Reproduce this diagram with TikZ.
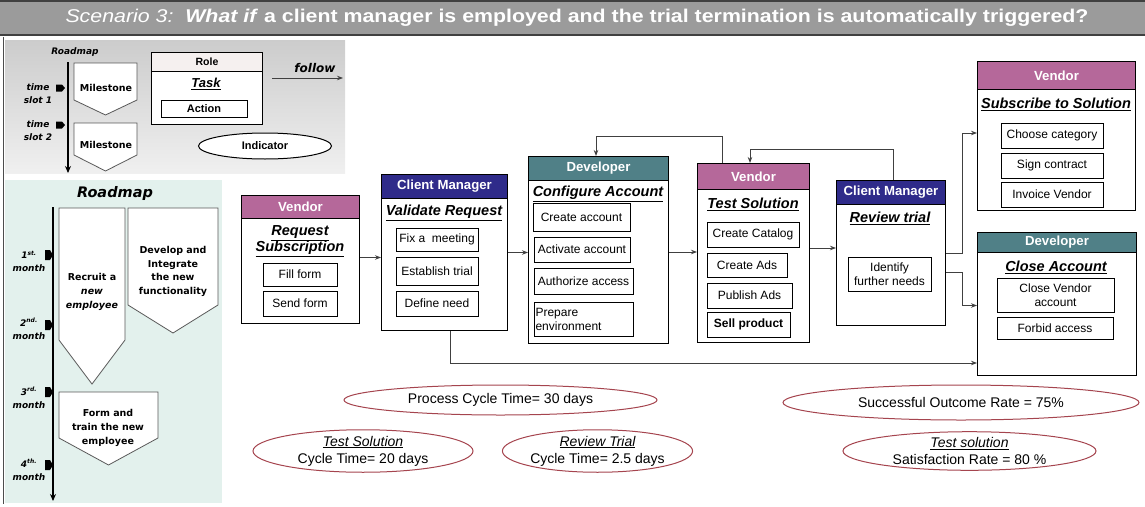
\documentclass[tikz,border=0pt]{standalone}
\usepackage{graphicx}
\usepackage{fontspec}
\setmainfont{Liberation Sans}
\newfontfamily\rmapfont{DejaVu Sans}
\usetikzlibrary{positioning,arrows.meta,shapes.geometric}
\definecolor{vendorc}{RGB}{181,104,154}
\definecolor{clientc}{RGB}{47,43,138}
\definecolor{devc}{RGB}{80,128,135}
\definecolor{indc}{RGB}{165,68,78}
\definecolor{rmapc}{RGB}{227,241,237}
\definecolor{titlec}{RGB}{155,155,155}
\definecolor{rolec}{RGB}{245,240,239}
\definecolor{linec}{RGB}{64,64,64}

\begin{document}
\begin{tikzpicture}[x=1pt, y=-1pt,
  panel/.style={rectangle, draw=black, line width=1pt, fill=white, inner sep=0pt, anchor=north west},
  head/.style={rectangle, draw=black, line width=1pt, text=white, inner sep=0pt, anchor=north,
               font=\fontsize{13.2}{15}\selectfont\bfseries},
  task/.style={align=center, inner sep=0pt, font=\fontsize{14.5}{16}\selectfont\bfseries\itshape},
  act/.style={rectangle, draw=black, line width=0.9pt, fill=white, align=center, inner sep=0pt,
              font=\fontsize{12}{14}\selectfont},
  ind/.style={ellipse, draw=indc, line width=1pt, fill=white, inner sep=0pt, align=center,
              font=\fontsize{14}{17}\selectfont},
  mile/.style={draw=black!65, line width=0.8pt, fill=white},
  rmap/.style={align=center, inner sep=0pt, font=\rmapfont\fontsize{9.5}{14}\selectfont\bfseries},
  rmaplbl/.style={align=center, inner sep=0pt, font=\rmapfont\fontsize{9}{13}\selectfont\bfseries\itshape},
  arrow/.style={-{Stealth[length=6pt, width=4.5pt]}, draw=linec, line width=0.9pt},
  axis/.style={-{Stealth[length=7pt, width=6pt]}, draw=black, line width=1.6pt}
]
\useasboundingbox (0,0) rectangle (1145,506);

% title bar
\fill[titlec] (0,0) rectangle (1145,36);
\draw[black!75, line width=1.5pt] (0,0.75) -- (1145,0.75);
\draw[black!75, line width=2.5pt] (0,35) -- (1145,35);
\draw[black!70, line width=1pt] (3,37) -- (3,504);
\node[text=white, inner sep=0pt, font=\fontsize{18.5}{20}\selectfont] (ttl) at (577,18)
  {\resizebox{1023pt}{\height}{\textit{Scenario 3:}\ \ \textbf{\textit{What if}} \textbf{a client manager is employed and the trial termination is automatically triggered?}}};

% legend
\shade[top color=black!20, bottom color=black!6] (5,40) rectangle (345,173);
\node[rmaplbl] (lgrm) at (75,52) {Roadmap};
\coordinate (lgax1) at (68,62);
\coordinate (lgax2) at (68,173);
\draw[axis, line width=1.3pt] (lgax1) -- (lgax2);
\foreach \my in {88,125} {
  \fill (56,\my-3.5) -- (62,\my-3.5) -- (65,\my) -- (62,\my+3.5) -- (56,\my+3.5) -- cycle;
}
\node[rmaplbl] (lgts1) at (38,94) {time\\slot 1};
\node[rmaplbl] (lgts2) at (38,130.5) {time\\slot 2};
\draw[mile] (74,63) -- (137,63) -- (137,100) -- (105.5,115) -- (74,100) -- cycle;
\node[rmap] (lgms1) at (106,88) {Milestone};
\draw[mile] (74,123) -- (137,123) -- (137,155) -- (105.5,171) -- (74,155) -- cycle;
\node[rmap] (lgms2) at (106,145) {Milestone};
\node[panel, minimum width=111, minimum height=72] (lgrole) at (151,52) {};
\node[head, fill=rolec, text=black, minimum width=111, minimum height=19,
      font=\fontsize{10.5}{12}\selectfont\bfseries] (lgroleh) at (lgrole.north) {Role};
\node[task, font=\fontsize{13}{15}\selectfont\bfseries\itshape] (lgtask) at (206,84) {\underline{Task}};
\node[act, minimum width=86, minimum height=17, font=\fontsize{11}{13}\selectfont\bfseries] (lgact) at (204,108.5) {Action};
\node[rmaplbl, font=\rmapfont\fontsize{12}{14}\selectfont\bfseries\itshape] (lgflw) at (315,68) {follow};
\coordinate (lgfl1) at (272,78);
\coordinate (lgfl2) at (343,78);
\draw[arrow] (lgfl1) -- (lgfl2);
\node[ellipse, draw=black, line width=1pt, fill=white, minimum width=133, minimum height=26, inner sep=0pt,
      font=\fontsize{11}{13}\selectfont\bfseries] (lgind) at (265,146) {Indicator};

% roadmap
\fill[rmapc] (5,180) rectangle (222,503);
\node[rmaplbl, font=\rmapfont\fontsize{14.5}{16}\selectfont\bfseries\itshape] (rmt) at (115,193) {Roadmap};
\coordinate (rmax1) at (53,207);
\coordinate (rmax2) at (53,501);
\draw[axis] (rmax1) -- (rmax2);
\foreach \my in {255,325,392,465} {
  \fill (45,\my-5) -- (50,\my-5) -- (53,\my) -- (50,\my+5) -- (45,\my+5) -- cycle;
}
\node[rmaplbl] (mon1) at (29,261.5) {1\textsuperscript{st.}\\month};
\node[rmaplbl] (mon2) at (29,328.5) {2\textsuperscript{nd.}\\month};
\node[rmaplbl] (mon3) at (29,398) {3\textsuperscript{rd.}\\month};
\node[rmaplbl] (mon4) at (29,469.5) {4\textsuperscript{th.}\\month};
\draw[mile] (59,208) -- (125,208) -- (125,340) -- (92,384) -- (59,340) -- cycle;
\node[rmap] (rcr) at (92,292) {Recruit a\\\textit{new}\\\textit{employee}};
\draw[mile] (128,208) -- (218,208) -- (218,305) -- (173,333) -- (128,305) -- cycle;
\node[rmap, font=\rmapfont\fontsize{9.5}{13.7}\selectfont\bfseries] (dev) at (173,271.5) {Develop and\\Integrate\\the new\\functionality};
\draw[mile] (59,392) -- (158,392) -- (158,438) -- (108.5,465) -- (59,438) -- cycle;
\node[rmap] (frm) at (108,428) {Form and\\train the new\\employee};

% request subscription
\node[panel, minimum width=118, minimum height=128] (rs) at (241,195) {};
\node[head, fill=vendorc, minimum width=118, minimum height=23] (rsh) at (rs.north) {Vendor};
\node[task] (rst) at (300,241) {\underline{Request}\\\underline{Subscription}};
\node[act, minimum width=74, minimum height=23] (rs1) at (300,274.5) {Fill form};
\node[act, minimum width=74, minimum height=25] (rs2) at (300,303.5) {Send form};

% validate request
\node[panel, minimum width=126, minimum height=156] (vr) at (381,174) {};
\node[head, fill=clientc, minimum width=126, minimum height=24] (vrh) at (vr.north) {Client Manager};
\node[task] (vrt) at (444,213) {\underline{Validate Request}};
\node[act, minimum width=82, minimum height=23] (vr1) at (437,239.5) {Fix a\ \ meeting};
\node[act, minimum width=82, minimum height=28] (vr2) at (437,271) {Establish trial};
\node[act, minimum width=82, minimum height=25] (vr3) at (437,303.5) {Define need};

% configure account
\node[panel, minimum width=140, minimum height=187] (ca) at (528,156) {};
\node[head, fill=devc, minimum width=140, minimum height=24] (cah) at (ca.north) {Developer};
\node[task] (cat) at (598,194) {\underline{Configure Account}};
\node[act, minimum width=97, minimum height=28] (ca1) at (581.5,217) {Create account};
\node[act, minimum width=96, minimum height=25] (ca2) at (582,249.5) {Activate account};
\node[act, minimum width=99, minimum height=26] (ca3) at (583.5,281) {Authorize access};
\node[act, minimum width=99, minimum height=34, text width=96, align=left] (ca4) at (583.5,319) {Prepare\\environment};

% test solution
\node[panel, minimum width=112, minimum height=179] (ts) at (697,163) {};
\node[head, fill=vendorc, minimum width=112, minimum height=26] (tsh) at (ts.north) {Vendor};
\node[task] (tst) at (753,204) {\underline{Test Solution}};
\node[act, minimum width=92, minimum height=25] (ts1) at (753,234.5) {Create Catalog};
\node[act, minimum width=80, minimum height=24] (ts2) at (747,265) {Create Ads};
\node[act, minimum width=85, minimum height=25] (ts3) at (749.5,295.5) {Publish Ads};
\node[act, minimum width=83, minimum height=25, font=\fontsize{12}{14}\selectfont\bfseries] (ts4) at (748.5,324.5) {Sell product};

% review trial
\node[panel, minimum width=109, minimum height=145] (rt) at (836,180) {};
\node[head, fill=clientc, minimum width=109, minimum height=24] (rth) at (rt.north) {Client Manager};
\node[task] (rtt) at (890,218) {\underline{Review trial}};
\node[act, minimum width=83, minimum height=34] (rt1) at (889.5,274) {Identify\\further needs};

% subscribe to solution
\node[panel, minimum width=158, minimum height=149] (ss) at (977,61) {};
\node[head, fill=vendorc, minimum width=158, minimum height=28] (ssh) at (ss.north) {Vendor};
\node[task] (sst) at (1056,104) {\underline{Subscribe to Solution}};
\node[act, minimum width=102, minimum height=25] (ss1) at (1052,135.5) {Choose category};
\node[act, minimum width=102, minimum height=25] (ss2) at (1052,165.5) {Sign contract};
\node[act, minimum width=102, minimum height=25] (ss3) at (1052,194.5) {Invoice Vendor};

% close account
\node[panel, minimum width=159, minimum height=143] (cl) at (977,232) {};
\node[head, fill=devc, minimum width=159, minimum height=20] (clh) at (cl.north) {Developer};
\node[task] (clt) at (1056,267) {\underline{Close Account}};
\node[act, minimum width=117, minimum height=34] (cl1) at (1055.5,295) {Close Vendor\\account};
\node[act, minimum width=116, minimum height=22] (cl2) at (1055,328) {Forbid access};

% connectors
\draw[arrow] ([yshift=2pt]rs.east) -- ([yshift=2pt]rs.east -| vr.west);
\draw[arrow] (vr.east) -- (vr.east -| ca.west);
\draw[arrow] ([yshift=-2pt]ca.east) -- ([yshift=-2pt]ca.east -| ts.west);
\draw[arrow] ([yshift=5pt]ts.east) -- ([yshift=5pt]ts.east -| rt.west);
\draw[arrow] ([xshift=25pt]ts.north west) -- ++(0,27pt) -| ([xshift=68pt]ca.north west);
\draw[arrow] ([xshift=2pt]rt.north) -- ++(0,31pt) -| ([xshift=53pt]ts.north west);
\draw[arrow] (rt.east) -- ++(16pt,0) |- ([yshift=3pt]ss.west);
\draw[arrow] ([yshift=-19pt]rt.east) -- ++(16pt,0) |- ([yshift=-1.5pt]cl.west);
\draw[arrow] ([xshift=5.5pt]vr.south) |- ([yshift=13pt]cl.south west);

% indicators
\node[ind, minimum width=313, minimum height=30] (pct) at (500.5,400) {Process Cycle Time= 30 days};
\node[ind, minimum width=220, minimum height=38] (tsct) at (363,451) {\textit{\underline{Test Solution}}\\Cycle Time= 20 days};
\node[ind, minimum width=185, minimum height=38] (rvct) at (597.5,451) {\textit{\underline{Review Trial}}\\Cycle Time= 2.5 days};
\node[ind, minimum width=356, minimum height=35] (sor) at (961,402.5) {Successful Outcome Rate = 75\%};
\node[ind, minimum width=253, minimum height=38] (tssr) at (969.5,451) {\textit{\underline{Test solution}}\\Satisfaction Rate = 80 \%};
\end{tikzpicture}
\end{document}
